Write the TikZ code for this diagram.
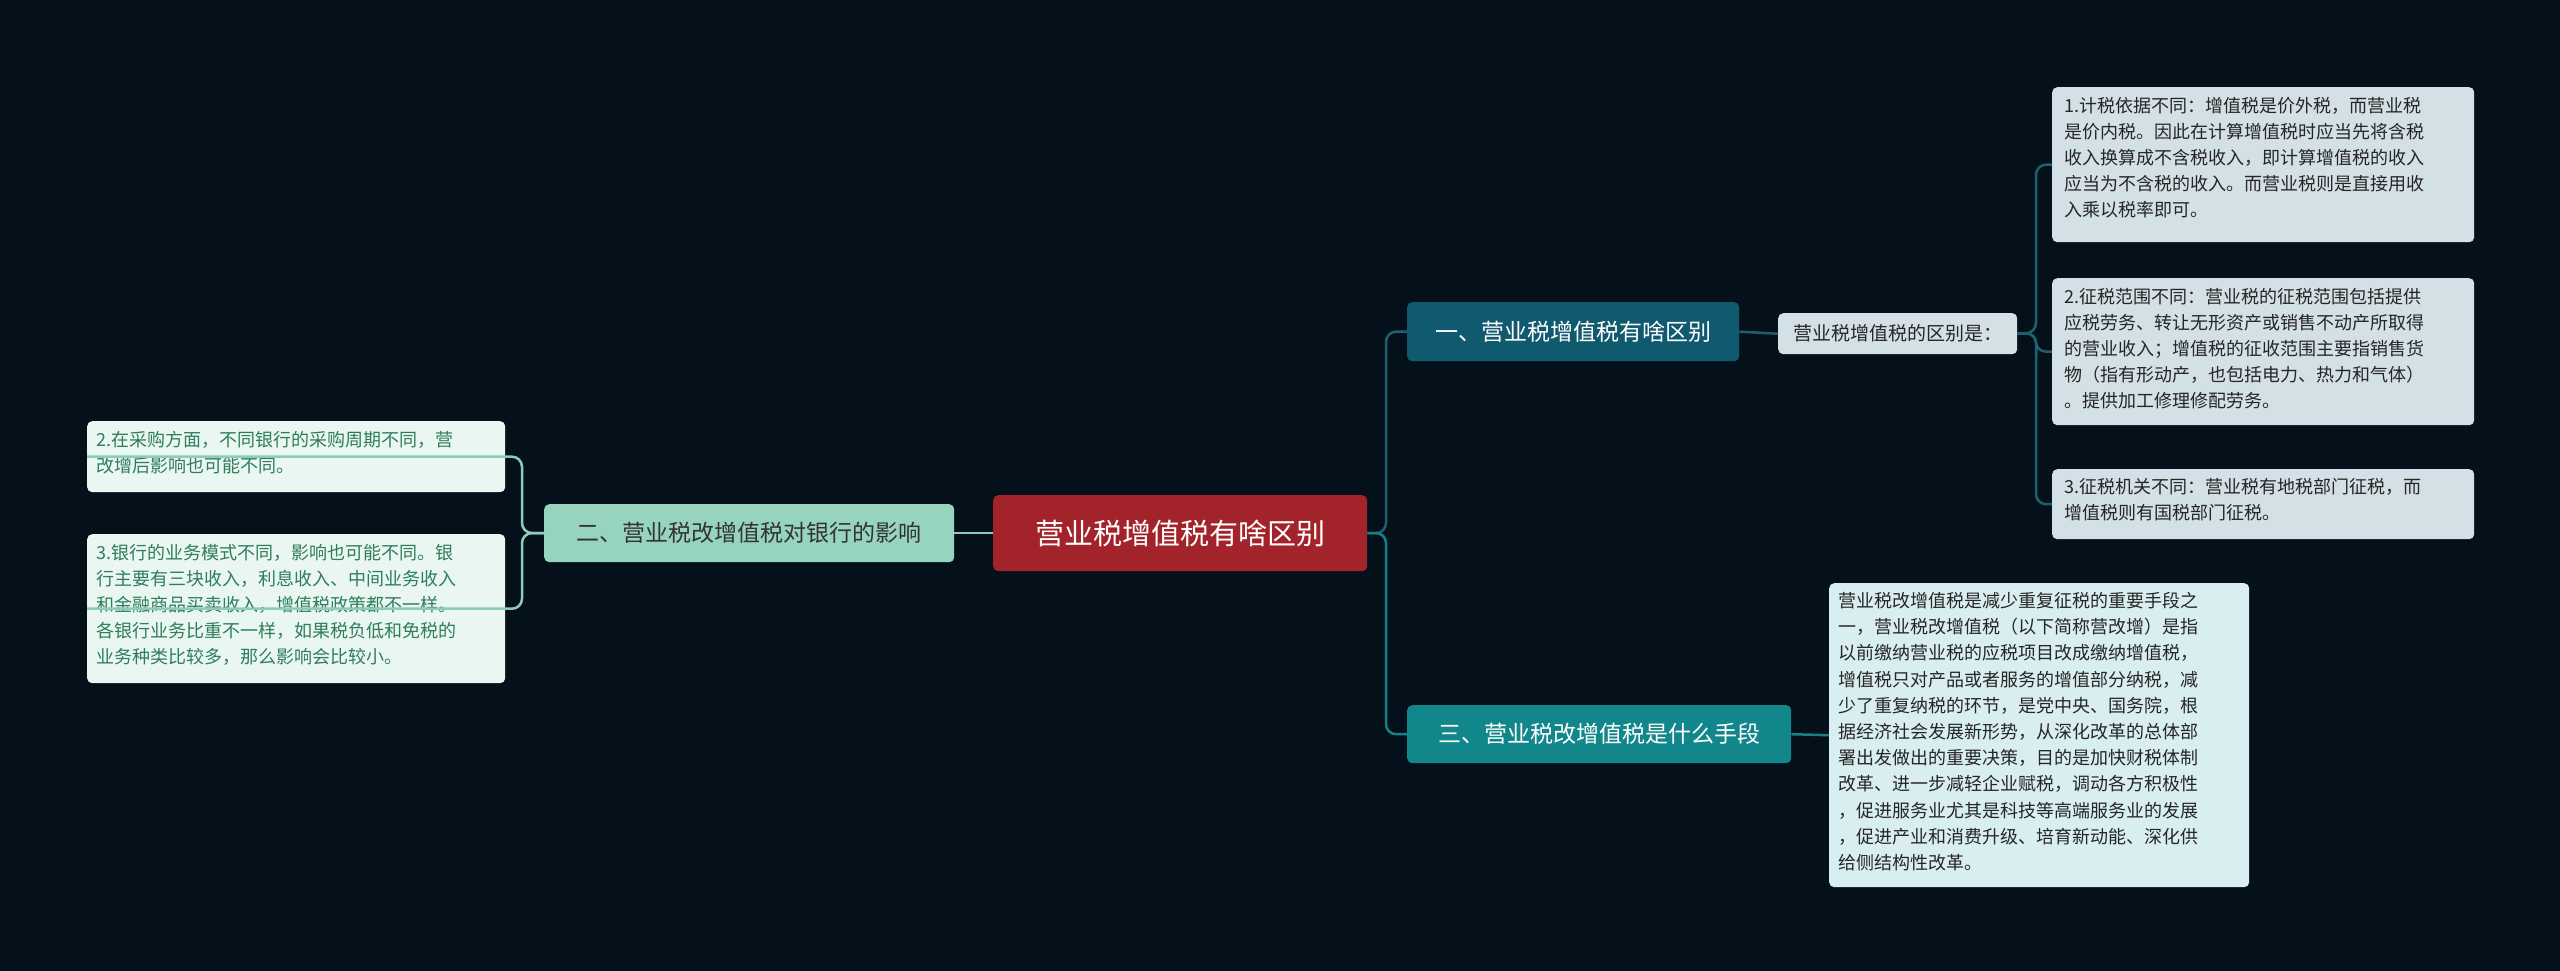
\documentclass[tikz,border=0pt]{standalone}
\usepackage{fontspec}
\setmainfont{Noto Sans CJK SC}
\begin{document}
\begin{tikzpicture}[x=1pt,y=-1pt,
  box/.style={rounded corners=5pt,inner sep=0pt,align=left,anchor=north west},
  leafR/.style={box,fill=leafblue,text=black!85,font=\fontsize{18}{26}\selectfont},
  leafL/.style={box,fill=leafgreen,text=leaftxt,font=\fontsize{18}{26}\selectfont},
  conR/.style={draw=conblue,line width=2.5pt,rounded corners=10pt},
  conR2/.style={draw=conteal,line width=2.5pt,rounded corners=10pt},
  conL/.style={draw=congreen,line width=2.5pt,rounded corners=10pt}]
\definecolor{bg}{HTML}{04111A}
\definecolor{rootred}{HTML}{A3232A}
\definecolor{b1}{HTML}{0F5A6E}
\definecolor{b3}{HTML}{12878B}
\definecolor{b2}{HTML}{96D4BE}
\definecolor{leafblue}{HTML}{D3E0E5}
\definecolor{leafgreen}{HTML}{EAF6F1}
\definecolor{leaftxt}{HTML}{2E7D5B}
\definecolor{bigleaf}{HTML}{D8EEF0}
\definecolor{conblue}{HTML}{1E5F70}
\definecolor{conteal}{HTML}{1A7F86}
\definecolor{congreen}{HTML}{8FCCB5}
\fill[bg] (0,0) rectangle (2560,971);
\useasboundingbox (0,0) rectangle (2560,971);
% nodes
\node[box,fill=rootred,text=white,font=\fontsize{29}{34}\selectfont,minimum width=374pt,minimum height=76pt,align=center] (root) at (993,495) {};
\node[font=\fontsize{29}{34}\selectfont,text=white] at (root.center) {营业税增值税有啥区别};
\node[box,fill=b2,minimum width=410pt,minimum height=58pt] (n2) at (544,504) {};
\node[font=\fontsize{23}{28}\selectfont,text=black!80] at (n2.center) {二、营业税改增值税对银行的影响};
\node[box,fill=b1,minimum width=332pt,minimum height=59pt] (n1) at (1407,302) {};
\node[font=\fontsize{23}{28}\selectfont,text=white] at (n1.center) {一、营业税增值税有啥区别};
\node[box,fill=b3,minimum width=384pt,minimum height=58pt] (n3) at (1407,705) {};
\node[font=\fontsize{23}{28}\selectfont,text=white] at (n3.center) {三、营业税改增值税是什么手段};
\node[box,fill=leafblue,minimum width=239pt,minimum height=41pt] (m1) at (1778,313) {};
\node[font=\fontsize{19}{24}\selectfont,text=black!85] at (m1.center) {营业税增值税的区别是：};
% right leaves
\node[leafR,minimum width=422pt,minimum height=155pt] (r1) at (2052,87) {};
\node[anchor=north west,align=left,inner sep=0pt,font=\fontsize{18}{26}\selectfont,text=black!85] at (2064,97) {1.计税依据不同：增值税是价外税，而营业税\\是价内税。因此在计算增值税时应当先将含税\\收入换算成不含税收入，即计算增值税的收入\\应当为不含税的收入。而营业税则是直接用收\\入乘以税率即可。};
\node[leafR,minimum width=422pt,minimum height=147pt] (r2) at (2052,278) {};
\node[anchor=north west,align=left,inner sep=0pt,font=\fontsize{18}{26}\selectfont,text=black!85] at (2064,288) {2.征税范围不同：营业税的征税范围包括提供\\应税劳务、转让无形资产或销售不动产所取得\\的营业收入；增值税的征收范围主要指销售货\\物（指有形动产，也包括电力、热力和气体）\\。提供加工修理修配劳务。};
\node[leafR,minimum width=422pt,minimum height=70pt] (r3) at (2052,469) {};
\node[anchor=north west,align=left,inner sep=0pt,font=\fontsize{18}{26}\selectfont,text=black!85] at (2064,478) {3.征税机关不同：营业税有地税部门征税，而\\增值税则有国税部门征税。};
% big leaf
\node[box,fill=bigleaf,minimum width=420pt,minimum height=304pt] (r4) at (1829,583) {};
\node[anchor=north west,align=left,inner sep=0pt,font=\fontsize{18}{26.2}\selectfont,text=black!85] at (1838,592) {营业税改增值税是减少重复征税的重要手段之\\一，营业税改增值税（以下简称营改增）是指\\以前缴纳营业税的应税项目改成缴纳增值税，\\增值税只对产品或者服务的增值部分纳税，减\\少了重复纳税的环节，是党中央、国务院，根\\据经济社会发展新形势，从深化改革的总体部\\署出发做出的重要决策，目的是加快财税体制\\改革、进一步减轻企业赋税，调动各方积极性\\，促进服务业尤其是科技等高端服务业的发展\\，促进产业和消费升级、培育新动能、深化供\\给侧结构性改革。};
% left leaves
\node[leafL,minimum width=418pt,minimum height=71pt] (l2) at (87,421) {};
\node[anchor=north west,align=left,inner sep=0pt,font=\fontsize{18}{26}\selectfont,text=leaftxt] at (96,431) {2.在采购方面，不同银行的采购周期不同，营\\改增后影响也可能不同。};
\node[leafL,minimum width=418pt,minimum height=149pt] (l3) at (87,534) {};
\node[anchor=north west,align=left,inner sep=0pt,font=\fontsize{18}{26}\selectfont,text=leaftxt] at (96,544) {3.银行的业务模式不同，影响也可能不同。银\\行主要有三块收入，利息收入、中间业务收入\\和金融商品买卖收入，增值税政策都不一样。\\各银行业务比重不一样，如果税负低和免税的\\业务种类比较多，那么影响会比较小。};
% connectors
\draw[conR] (root.east) -- (1386,533) |- (n1.west);
\draw[conR2] (root.east) -- (1386,533) |- (n3.west);
\draw[conL] (root.west) -- (n2.east);
\draw[conR] (n1.east) -- (m1.west);
\draw[conR] (m1.east) -- (2036,333) |- (r1.west);
\draw[conR] (m1.east) -- (2036,333) |- (r2.west);
\draw[conR] (m1.east) -- (2036,333) |- (r3.west);
\draw[conR2] (n3.east) -- (r4.west);
\draw[conL] (n2.west) -- (522,533) |- (l2.west);
\draw[conL] (n2.west) -- (522,533) |- (l3.west);
\end{tikzpicture}
\end{document}
